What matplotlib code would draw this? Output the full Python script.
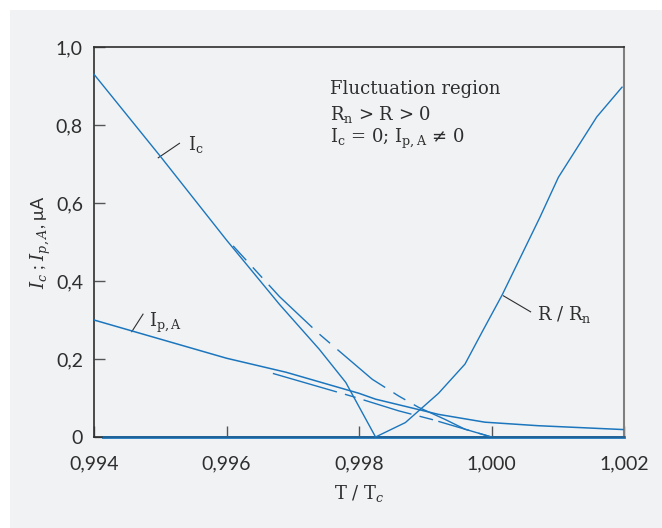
import numpy as np
import matplotlib
matplotlib.use("Agg")
import matplotlib.pyplot as plt
from matplotlib.patches import Rectangle
from matplotlib.ticker import FuncFormatter

plt.rcParams["mathtext.fontset"] = "dejavuserif"

# critical current I_c (solid) and its extrapolation (dashed)
x_ic = [0.994, 0.995, 0.996, 0.9968, 0.9974, 0.9978, 0.99825, 1.002]
ic = [0.93, 0.72, 0.505, 0.34, 0.225, 0.14, 0.0, 0.0]
x_ic_ext = [0.9961, 0.9968, 0.9974, 0.9982, 0.9986, 0.9989, 0.9993, 0.9996, 1.0000]
ic_ext = [0.49, 0.36, 0.264, 0.148, 0.105, 0.076, 0.045, 0.02, 0.0]

# pair current I_p,A and its extrapolation
x_ip = [0.994, 0.995, 0.996, 0.9969, 0.998, 0.99825, 0.9992, 0.9999, 1.0007, 1.002]
ip = [0.30, 0.251, 0.202, 0.166, 0.112, 0.097, 0.058, 0.038, 0.029, 0.019]
x_ip_ext = [0.9967, 0.9979, 0.9986, 0.9991, 0.9995, 1.0000]
ip_ext = [0.163, 0.104, 0.067, 0.045, 0.025, 0.0]

# resistance R/R_n
x_r = [0.99414, 0.99825, 0.9987, 0.9992, 0.9996, 0.99987, 1.00016, 1.00073, 1.00101, 1.00159, 1.00197]
r = [0.0, 0.0, 0.037, 0.112, 0.187, 0.273, 0.364, 0.563, 0.666, 0.821, 0.897]

xticks = [0.994, 0.996, 0.998, 1.000, 1.002]
yticks = [0, 0.2, 0.4, 0.6, 0.8, 1.0]

blue = "#1b76bd"
bg = "#f1f2f4"
dark = "#2e2e2e"

fig = plt.figure(figsize=(6.62, 5.28), dpi=100)
fig.patch.set_facecolor("white")
fig.add_artist(Rectangle((10 / 662, 0), 1, 1 - 10 / 528, transform=fig.transFigure,
                         facecolor=bg, edgecolor="none", zorder=-10))
ax = fig.add_axes([94 / 662, (528 - 437) / 528, 530 / 662, 390 / 528])
ax.set_facecolor(bg)

ax.plot(x_ic, ic, color=blue, lw=1.0, zorder=3, clip_on=False)
ax.plot(x_ic_ext, ic_ext, color=blue, lw=1.0, zorder=3,
        linestyle=(30, (44, 7, 10, 7)))
ax.plot(x_ip, ip, color=blue, lw=1.1, zorder=3)
ax.plot(x_ip_ext, ip_ext, color=blue, lw=1.0, zorder=3,
        linestyle=(0, (48, 6, 8, 6, 36, 6, 10, 4)))
ax.plot(x_r, r, color=blue, lw=1.0, zorder=3, clip_on=False)
ax.plot([x_r[0], xticks[-1]], [0, 0], color=blue, lw=2.0, zorder=2.5, clip_on=False)

ax.set_xlim(0.994, 1.002)
ax.set_ylim(0, 1.0)
ax.set_xticks(xticks)
ax.set_yticks(yticks)
ax.xaxis.set_major_formatter(FuncFormatter(lambda v, p: f"{v:.3f}".replace(".", ",")))
ax.yaxis.set_major_formatter(FuncFormatter(lambda v, p: "0" if v == 0 else f"{v:.1f}".replace(".", ",")))
ax.tick_params(direction="in", length=8, width=1.0, color="#555555",
               labelsize=14, labelcolor=dark)
ax.tick_params(axis="x", pad=13)
ax.tick_params(axis="y", pad=8)
for lab in ax.get_xticklabels() + ax.get_yticklabels():
    lab.set_fontfamily("Lato")

for side in ["left", "bottom", "top"]:
    ax.spines[side].set_color(dark)
    ax.spines[side].set_linewidth(1.2)
ax.spines["right"].set_color("#808080")
ax.spines["right"].set_linewidth(1.5)

ax.set_xlabel(r"T / $\mathrm{T}_c$", family="DejaVu Serif", fontsize=13, color=dark, labelpad=8)
ax.set_ylabel(r"$I_c$ ; $I_{p,A}$, μA", family="Lato", fontsize=13, color=dark, labelpad=2)

serif = dict(family="DejaVu Serif", fontsize=13, color=dark, va="center")
ax.text(0.99756, 0.892, "Fluctuation region", **serif)
ax.text(0.99756, 0.828, r"R$_\mathrm{n}$ > R > 0", **serif)
ax.text(0.99756, 0.764, r"I$_\mathrm{c}$ = 0; I$_\mathrm{p,A}$ ≠ 0", **serif)

# curve labels with leader lines
ax.plot([0.99497, 0.99529], [0.716, 0.753], color=dark, lw=0.8)
ax.text(0.99542, 0.749, r"I$_\mathrm{c}$", **serif)
ax.plot([0.99457, 0.99474], [0.27, 0.315], color=dark, lw=0.8)
ax.text(0.99483, 0.292, r"I$_\mathrm{p,A}$", **serif)
ax.plot([1.00018, 1.00059], [0.362, 0.321], color=dark, lw=0.8)
ax.text(1.00068, 0.313, r"R / R$_\mathrm{n}$", **serif)

fig.savefig("out.png", dpi=100, facecolor=fig.get_facecolor())
